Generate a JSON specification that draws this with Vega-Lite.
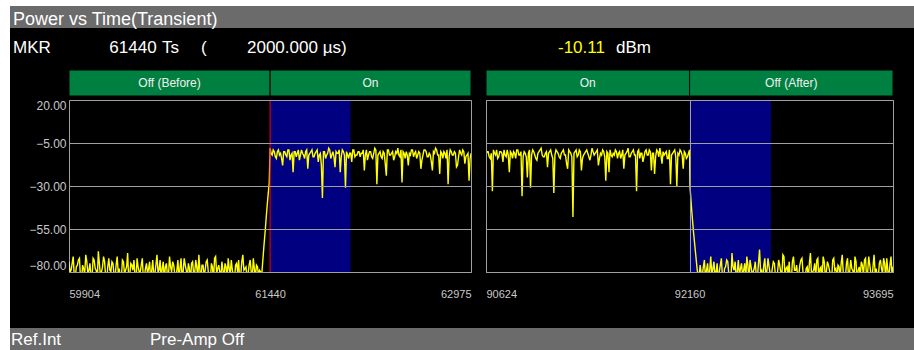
{
  "$schema": "https://vega.github.io/schema/vega-lite/v6.json",
  "background": "#000000",
  "padding": 0,
  "autosize": {"type": "pad"},
  "spacing": 0,
  "config": {
    "font": "Liberation Sans",
    "view": {"stroke": null},
    "concat": {"spacing": 0}
  },
  "datasets": {
    "segL": [
      {"seg": "Off (Before)", "t": 59904, "t2": 61440, "mid": 60672},
      {"seg": "On", "t": 61440, "t2": 62975, "mid": 62207.5}
    ],
    "segR": [
      {"seg": "On", "t": 90624, "t2": 92160, "mid": 91392},
      {"seg": "Off (After)", "t": 92160, "t2": 93695, "mid": 92927.5}
    ],
    "regionL": [{"t": 61440, "t2": 62054}],
    "regionR": [{"t": 92160, "t2": 92774}],
    "markerL": [{"t": 61440}],
    "traceL": [
      {"t":59904,"v":-74},{"t":59912,"v":-80},{"t":59920,"v":-79},{"t":59928,"v":-75},{"t":59936,"v":-71},{"t":59944,"v":-82},{"t":59952,"v":-83},{"t":59960,"v":-77},{"t":59968,"v":-76},{"t":59976,"v":-73},
      {"t":59984,"v":-72},{"t":59992,"v":-84},{"t":60000,"v":-85},{"t":60008,"v":-76},{"t":60016,"v":-78},{"t":60024,"v":-81},{"t":60032,"v":-70},{"t":60040,"v":-74},{"t":60048,"v":-81},{"t":60056,"v":-79},
      {"t":60064,"v":-75},{"t":60072,"v":-83},{"t":60080,"v":-84},{"t":60088,"v":-72},{"t":60096,"v":-73},{"t":60104,"v":-78},{"t":60112,"v":-79},{"t":60120,"v":-85},{"t":60128,"v":-68},{"t":60136,"v":-75},
      {"t":60144,"v":-82},{"t":60152,"v":-80},{"t":60160,"v":-77},{"t":60168,"v":-71},{"t":60176,"v":-74},{"t":60184,"v":-83},{"t":60192,"v":-86},{"t":60200,"v":-77},{"t":60208,"v":-72},{"t":60216,"v":-79},
      {"t":60224,"v":-80},{"t":60232,"v":-74},{"t":60240,"v":-75},{"t":60248,"v":-82},{"t":60256,"v":-83},{"t":60264,"v":-76},{"t":60272,"v":-71},{"t":60280,"v":-80},{"t":60288,"v":-78},{"t":60296,"v":-85},
      {"t":60304,"v":-84},{"t":60312,"v":-73},{"t":60320,"v":-74},{"t":60328,"v":-81},{"t":60336,"v":-79},{"t":60344,"v":-77},{"t":60352,"v":-69},{"t":60360,"v":-84},{"t":60368,"v":-82},{"t":60376,"v":-75},
      {"t":60384,"v":-76},{"t":60392,"v":-79},{"t":60400,"v":-73},{"t":60408,"v":-82},{"t":60416,"v":-85},{"t":60424,"v":-72},{"t":60432,"v":-77},{"t":60440,"v":-80},{"t":60448,"v":-80},{"t":60456,"v":-76},
      {"t":60464,"v":-72},{"t":60472,"v":-84},{"t":60480,"v":-83},{"t":60488,"v":-78},{"t":60496,"v":-75},{"t":60504,"v":-81},{"t":60512,"v":-78},{"t":60520,"v":-74},{"t":60528,"v":-86},{"t":60536,"v":-79},
      {"t":60544,"v":-73},{"t":60552,"v":-83},{"t":60560,"v":-81},{"t":60568,"v":-76},{"t":60576,"v":-70},{"t":60584,"v":-80},{"t":60592,"v":-79},{"t":60600,"v":-73},{"t":60608,"v":-84},{"t":60616,"v":-78},
      {"t":60624,"v":-74},{"t":60632,"v":-85},{"t":60640,"v":-77},{"t":60648,"v":-75},{"t":60656,"v":-82},{"t":60664,"v":-82},{"t":60672,"v":-71},{"t":60680,"v":-77},{"t":60688,"v":-80},{"t":60696,"v":-74},
      {"t":60704,"v":-76},{"t":60712,"v":-81},{"t":60720,"v":-85},{"t":60728,"v":-79},{"t":60736,"v":-73},{"t":60744,"v":-84},{"t":60752,"v":-78},{"t":60760,"v":-72},{"t":60768,"v":-83},{"t":60776,"v":-80},
      {"t":60784,"v":-72},{"t":60792,"v":-76},{"t":60800,"v":-79},{"t":60808,"v":-83},{"t":60816,"v":-75},{"t":60824,"v":-78},{"t":60832,"v":-86},{"t":60840,"v":-75},{"t":60848,"v":-74},{"t":60856,"v":-81},
      {"t":60864,"v":-81},{"t":60872,"v":-73},{"t":60880,"v":-77},{"t":60888,"v":-84},{"t":60896,"v":-70},{"t":60904,"v":-79},{"t":60912,"v":-84},{"t":60920,"v":-76},{"t":60928,"v":-76},{"t":60936,"v":-82},
      {"t":60944,"v":-79},{"t":60952,"v":-74},{"t":60960,"v":-73},{"t":60968,"v":-80},{"t":60976,"v":-82},{"t":60984,"v":-85},{"t":60992,"v":-75},{"t":61000,"v":-77},{"t":61008,"v":-85},{"t":61016,"v":-72},
      {"t":61024,"v":-71},{"t":61032,"v":-81},{"t":61040,"v":-78},{"t":61048,"v":-76},{"t":61056,"v":-80},{"t":61064,"v":-83},{"t":61072,"v":-74},{"t":61080,"v":-79},{"t":61088,"v":-83},{"t":61096,"v":-75},
      {"t":61104,"v":-77},{"t":61112,"v":-84},{"t":61120,"v":-72},{"t":61128,"v":-78},{"t":61136,"v":-81},{"t":61144,"v":-73},{"t":61152,"v":-79},{"t":61160,"v":-82},{"t":61168,"v":-86},{"t":61176,"v":-76},
      {"t":61184,"v":-75},{"t":61192,"v":-80},{"t":61200,"v":-73},{"t":61208,"v":-85},{"t":61216,"v":-82},{"t":61224,"v":-74},{"t":61232,"v":-70},{"t":61240,"v":-79},{"t":61248,"v":-78},{"t":61256,"v":-77},
      {"t":61264,"v":-84},{"t":61272,"v":-81},{"t":61280,"v":-76},{"t":61288,"v":-73},{"t":61296,"v":-80},{"t":61304,"v":-84},{"t":61312,"v":-72},{"t":61320,"v":-78},{"t":61328,"v":-83},{"t":61336,"v":-76},
      {"t":61344,"v":-77},{"t":61352,"v":-82},{"t":61360,"v":-79},{"t":61368,"v":-80},{"t":61376,"v":-82},
      {"t":61392,"v":-66},{"t":61404,"v":-55},{"t":61414,"v":-45},{"t":61424,"v":-36},{"t":61434,"v":-28},
      {"t":61440,"v":-8},{"t":61448,"v":-11},{"t":61456,"v":-12},{"t":61464,"v":-9},{"t":61472,"v":-10},{"t":61480,"v":-13},{"t":61488,"v":-14},{"t":61496,"v":-10},{"t":61504,"v":-9},{"t":61512,"v":-12},
      {"t":61520,"v":-11},{"t":61528,"v":-14},{"t":61536,"v":-18},{"t":61544,"v":-10},{"t":61552,"v":-10},{"t":61560,"v":-12},{"t":61568,"v":-13},{"t":61576,"v":-9},{"t":61584,"v":-9},{"t":61592,"v":-15},
      {"t":61600,"v":-12},{"t":61608,"v":-11},{"t":61616,"v":-22},{"t":61624,"v":-10},{"t":61632,"v":-10},{"t":61640,"v":-13},{"t":61648,"v":-11},{"t":61656,"v":-9},{"t":61664,"v":-15},{"t":61672,"v":-12},
      {"t":61680,"v":-9},{"t":61688,"v":-11},{"t":61696,"v":-12},{"t":61704,"v":-14},{"t":61712,"v":-10},{"t":61720,"v":-9},{"t":61728,"v":-20},{"t":61736,"v":-12},{"t":61744,"v":-11},{"t":61752,"v":-10},
      {"t":61760,"v":-9},{"t":61768,"v":-13},{"t":61776,"v":-13},{"t":61784,"v":-11},{"t":61792,"v":-10},{"t":61800,"v":-9},{"t":61808,"v":-16},{"t":61816,"v":-12},{"t":61824,"v":-11},{"t":61832,"v":-18},
      {"t":61840,"v":-37},{"t":61848,"v":-10},{"t":61856,"v":-10},{"t":61864,"v":-14},{"t":61872,"v":-12},{"t":61880,"v":-11},{"t":61888,"v":-8},{"t":61896,"v":-9},{"t":61904,"v":-14},{"t":61912,"v":-12},
      {"t":61920,"v":-10},{"t":61928,"v":-13},{"t":61936,"v":-19},{"t":61944,"v":-10},{"t":61952,"v":-11},{"t":61960,"v":-11},{"t":61968,"v":-9},{"t":61976,"v":-22},{"t":61984,"v":-13},{"t":61992,"v":-9},
      {"t":62000,"v":-10},{"t":62008,"v":-12},{"t":62016,"v":-31},{"t":62024,"v":-10},{"t":62032,"v":-12},{"t":62040,"v":-14},{"t":62048,"v":-11},{"t":62056,"v":-11},{"t":62064,"v":-16},{"t":62072,"v":-9},
      {"t":62080,"v":-9},{"t":62088,"v":-13},{"t":62096,"v":-12},{"t":62104,"v":-12},{"t":62112,"v":-10},{"t":62120,"v":-10},{"t":62128,"v":-13},{"t":62136,"v":-11},{"t":62144,"v":-11},{"t":62152,"v":-9},
      {"t":62160,"v":-21},{"t":62168,"v":-12},{"t":62176,"v":-9},{"t":62184,"v":-15},{"t":62192,"v":-12},{"t":62200,"v":-10},{"t":62208,"v":-10},{"t":62216,"v":-13},{"t":62224,"v":-14},{"t":62232,"v":-11},
      {"t":62240,"v":-8},{"t":62248,"v":-9},{"t":62256,"v":-29},{"t":62264,"v":-12},{"t":62272,"v":-11},{"t":62280,"v":-10},{"t":62288,"v":-13},{"t":62296,"v":-14},{"t":62304,"v":-10},{"t":62312,"v":-11},
      {"t":62320,"v":-17},{"t":62328,"v":-24},{"t":62336,"v":-9},{"t":62344,"v":-9},{"t":62352,"v":-12},{"t":62360,"v":-12},{"t":62368,"v":-11},{"t":62376,"v":-10},{"t":62384,"v":-15},{"t":62392,"v":-13},
      {"t":62400,"v":-10},{"t":62408,"v":-11},{"t":62416,"v":-8},{"t":62424,"v":-12},{"t":62432,"v":-13},{"t":62440,"v":-9},{"t":62448,"v":-28},{"t":62456,"v":-10},{"t":62464,"v":-11},{"t":62472,"v":-14},
      {"t":62480,"v":-10},{"t":62488,"v":-12},{"t":62496,"v":-18},{"t":62504,"v":-11},{"t":62512,"v":-12},{"t":62520,"v":-9},{"t":62528,"v":-9},{"t":62536,"v":-13},{"t":62544,"v":-11},{"t":62552,"v":-10},
      {"t":62560,"v":-14},{"t":62568,"v":-12},{"t":62576,"v":-10},{"t":62584,"v":-11},{"t":62592,"v":-20},{"t":62600,"v":-15},{"t":62608,"v":-12},{"t":62616,"v":-9},{"t":62624,"v":-9},{"t":62632,"v":-10},
      {"t":62640,"v":-13},{"t":62648,"v":-13},{"t":62656,"v":-11},{"t":62664,"v":-12},{"t":62672,"v":-16},{"t":62680,"v":-21},{"t":62688,"v":-10},{"t":62696,"v":-11},{"t":62704,"v":-8},{"t":62712,"v":-9},
      {"t":62720,"v":-12},{"t":62728,"v":-12},{"t":62736,"v":-23},{"t":62744,"v":-10},{"t":62752,"v":-11},{"t":62760,"v":-14},{"t":62768,"v":-10},{"t":62776,"v":-11},{"t":62784,"v":-14},{"t":62792,"v":-9},
      {"t":62800,"v":-29},{"t":62808,"v":-13},{"t":62816,"v":-9},{"t":62824,"v":-10},{"t":62832,"v":-12},{"t":62840,"v":-12},{"t":62848,"v":-10},{"t":62856,"v":-11},{"t":62864,"v":-19},{"t":62872,"v":-18},
      {"t":62880,"v":-13},{"t":62888,"v":-9},{"t":62896,"v":-11},{"t":62904,"v":-12},{"t":62912,"v":-9},{"t":62920,"v":-10},{"t":62928,"v":-17},{"t":62936,"v":-13},{"t":62944,"v":-12},{"t":62952,"v":-11},
      {"t":62960,"v":-27},{"t":62968,"v":-14},{"t":62975,"v":-11}
    ],
    "traceR": [
      {"t":90624,"v":-12},{"t":90632,"v":-10},{"t":90640,"v":-10},{"t":90648,"v":-13},{"t":90656,"v":-14},{"t":90664,"v":-11},{"t":90672,"v":-33},{"t":90680,"v":-9},{"t":90688,"v":-11},{"t":90696,"v":-12},
      {"t":90704,"v":-9},{"t":90712,"v":-14},{"t":90720,"v":-13},{"t":90728,"v":-10},{"t":90736,"v":-10},{"t":90744,"v":-11},{"t":90752,"v":-16},{"t":90760,"v":-9},{"t":90768,"v":-12},{"t":90776,"v":-13},
      {"t":90784,"v":-9},{"t":90792,"v":-12},{"t":90800,"v":-22},{"t":90808,"v":-10},{"t":90816,"v":-11},{"t":90824,"v":-14},{"t":90832,"v":-10},{"t":90840,"v":-11},{"t":90848,"v":-14},{"t":90856,"v":-9},
      {"t":90864,"v":-9},{"t":90872,"v":-12},{"t":90880,"v":-12},{"t":90888,"v":-10},{"t":90896,"v":-36},{"t":90904,"v":-13},{"t":90912,"v":-10},{"t":90920,"v":-11},{"t":90928,"v":-13},{"t":90936,"v":-25},
      {"t":90944,"v":-11},{"t":90952,"v":-9},{"t":90960,"v":-31},{"t":90968,"v":-12},{"t":90976,"v":-9},{"t":90984,"v":-10},{"t":90992,"v":-12},{"t":91000,"v":-14},{"t":91008,"v":-15},{"t":91016,"v":-11},
      {"t":91024,"v":-10},{"t":91032,"v":-9},{"t":91040,"v":-8},{"t":91048,"v":-12},{"t":91056,"v":-13},{"t":91064,"v":-13},{"t":91072,"v":-11},{"t":91080,"v":-10},{"t":91088,"v":-19},{"t":91096,"v":-11},
      {"t":91104,"v":-10},{"t":91112,"v":-9},{"t":91120,"v":-12},{"t":91128,"v":-14},{"t":91136,"v":-34},{"t":91144,"v":-12},{"t":91152,"v":-9},{"t":91160,"v":-10},{"t":91168,"v":-11},{"t":91176,"v":-13},
      {"t":91184,"v":-14},{"t":91192,"v":-11},{"t":91200,"v":-10},{"t":91208,"v":-9},{"t":91216,"v":-12},{"t":91224,"v":-12},{"t":91232,"v":-17},{"t":91240,"v":-20},{"t":91248,"v":-9},{"t":91256,"v":-10},
      {"t":91264,"v":-11},{"t":91272,"v":-13},{"t":91280,"v":-48},{"t":91288,"v":-11},{"t":91296,"v":-10},{"t":91304,"v":-9},{"t":91312,"v":-13},{"t":91320,"v":-12},{"t":91328,"v":-9},{"t":91336,"v":-10},
      {"t":91344,"v":-21},{"t":91352,"v":-14},{"t":91360,"v":-12},{"t":91368,"v":-11},{"t":91376,"v":-10},{"t":91384,"v":-9},{"t":91392,"v":-11},{"t":91400,"v":-13},{"t":91408,"v":-15},{"t":91416,"v":-12},
      {"t":91424,"v":-8},{"t":91432,"v":-10},{"t":91440,"v":-12},{"t":91448,"v":-11},{"t":91456,"v":-10},{"t":91464,"v":-9},{"t":91472,"v":-18},{"t":91480,"v":-14},{"t":91488,"v":-11},{"t":91496,"v":-12},
      {"t":91504,"v":-9},{"t":91512,"v":-10},{"t":91520,"v":-13},{"t":91528,"v":-27},{"t":91536,"v":-10},{"t":91544,"v":-11},{"t":91552,"v":-22},{"t":91560,"v":-9},{"t":91568,"v":-12},{"t":91576,"v":-13},
      {"t":91584,"v":-11},{"t":91592,"v":-12},{"t":91600,"v":-9},{"t":91608,"v":-10},{"t":91616,"v":-14},{"t":91624,"v":-11},{"t":91632,"v":-10},{"t":91640,"v":-14},{"t":91648,"v":-12},{"t":91656,"v":-9},
      {"t":91664,"v":-20},{"t":91672,"v":-12},{"t":91680,"v":-11},{"t":91688,"v":-10},{"t":91696,"v":-8},{"t":91704,"v":-13},{"t":91712,"v":-13},{"t":91720,"v":-11},{"t":91728,"v":-10},{"t":91736,"v":-9},
      {"t":91744,"v":-12},{"t":91752,"v":-12},{"t":91760,"v":-33},{"t":91768,"v":-10},{"t":91776,"v":-9},{"t":91784,"v":-14},{"t":91792,"v":-11},{"t":91800,"v":-11},{"t":91808,"v":-16},{"t":91816,"v":-13},
      {"t":91824,"v":-10},{"t":91832,"v":-9},{"t":91840,"v":-12},{"t":91848,"v":-12},{"t":91856,"v":-9},{"t":91864,"v":-10},{"t":91872,"v":-21},{"t":91880,"v":-11},{"t":91888,"v":-11},{"t":91896,"v":-23},
      {"t":91904,"v":-13},{"t":91912,"v":-9},{"t":91920,"v":-10},{"t":91928,"v":-13},{"t":91936,"v":-8},{"t":91944,"v":-12},{"t":91952,"v":-17},{"t":91960,"v":-10},{"t":91968,"v":-12},{"t":91976,"v":-11},
      {"t":91984,"v":-10},{"t":91992,"v":-14},{"t":92000,"v":-14},{"t":92008,"v":-9},{"t":92016,"v":-29},{"t":92024,"v":-12},{"t":92032,"v":-11},{"t":92040,"v":-10},{"t":92048,"v":-9},{"t":92056,"v":-13},
      {"t":92064,"v":-30},{"t":92072,"v":-11},{"t":92080,"v":-12},{"t":92088,"v":-9},{"t":92096,"v":-10},{"t":92104,"v":-12},{"t":92112,"v":-20},{"t":92120,"v":-10},{"t":92128,"v":-11},{"t":92136,"v":-14},
      {"t":92144,"v":-13},{"t":92152,"v":-11},{"t":92160,"v":-9},
      {"t":92163,"v":-30},{"t":92176,"v":-44},{"t":92190,"v":-57},{"t":92204,"v":-68},{"t":92218,"v":-79},{"t":92230,"v":-84},
      {"t":92240,"v":-76},{"t":92248,"v":-81},{"t":92256,"v":-82},{"t":92264,"v":-77},{"t":92272,"v":-73},{"t":92280,"v":-84},{"t":92288,"v":-79},{"t":92296,"v":-75},{"t":92304,"v":-85},{"t":92312,"v":-79},
      {"t":92320,"v":-71},{"t":92328,"v":-82},{"t":92336,"v":-78},{"t":92344,"v":-74},{"t":92352,"v":-83},{"t":92360,"v":-80},{"t":92368,"v":-75},{"t":92376,"v":-86},{"t":92384,"v":-80},{"t":92392,"v":-76},
      {"t":92400,"v":-72},{"t":92408,"v":-83},{"t":92416,"v":-86},{"t":92424,"v":-78},{"t":92432,"v":-77},{"t":92440,"v":-73},{"t":92448,"v":-74},{"t":92456,"v":-81},{"t":92464,"v":-81},{"t":92472,"v":-85},
      {"t":92480,"v":-69},{"t":92488,"v":-77},{"t":92496,"v":-79},{"t":92504,"v":-74},{"t":92512,"v":-84},{"t":92520,"v":-80},{"t":92528,"v":-73},{"t":92536,"v":-82},{"t":92544,"v":-78},{"t":92552,"v":-75},
      {"t":92560,"v":-82},{"t":92568,"v":-79},{"t":92576,"v":-75},{"t":92584,"v":-84},{"t":92592,"v":-71},{"t":92600,"v":-76},{"t":92608,"v":-85},{"t":92616,"v":-73},{"t":92624,"v":-77},{"t":92632,"v":-81},
      {"t":92640,"v":-80},{"t":92648,"v":-78},{"t":92656,"v":-74},{"t":92664,"v":-83},{"t":92672,"v":-83},{"t":92680,"v":-75},{"t":92688,"v":-67},{"t":92696,"v":-80},{"t":92704,"v":-79},{"t":92712,"v":-85},
      {"t":92720,"v":-76},{"t":92728,"v":-72},{"t":92736,"v":-84},{"t":92744,"v":-79},{"t":92752,"v":-72},{"t":92760,"v":-77},{"t":92768,"v":-81},{"t":92776,"v":-84},{"t":92784,"v":-78},{"t":92792,"v":-74},
      {"t":92800,"v":-75},{"t":92808,"v":-82},{"t":92816,"v":-86},{"t":92824,"v":-80},{"t":92832,"v":-73},{"t":92840,"v":-76},{"t":92848,"v":-80},{"t":92856,"v":-83},{"t":92864,"v":-70},{"t":92872,"v":-71},
      {"t":92880,"v":-82},{"t":92888,"v":-78},{"t":92896,"v":-77},{"t":92904,"v":-81},{"t":92912,"v":-74},{"t":92920,"v":-85},{"t":92928,"v":-85},{"t":92936,"v":-74},{"t":92944,"v":-71},{"t":92952,"v":-79},
      {"t":92960,"v":-79},{"t":92968,"v":-76},{"t":92976,"v":-83},{"t":92984,"v":-82},{"t":92992,"v":-76},{"t":93000,"v":-73},{"t":93008,"v":-72},{"t":93016,"v":-80},{"t":93024,"v":-81},{"t":93032,"v":-84},
      {"t":93040,"v":-78},{"t":93048,"v":-77},{"t":93056,"v":-84},{"t":93064,"v":-75},{"t":93072,"v":-69},{"t":93080,"v":-81},{"t":93088,"v":-80},{"t":93096,"v":-79},{"t":93104,"v":-75},{"t":93112,"v":-83},
      {"t":93120,"v":-73},{"t":93128,"v":-72},{"t":93136,"v":-86},{"t":93144,"v":-78},{"t":93152,"v":-77},{"t":93160,"v":-85},{"t":93168,"v":-71},{"t":93176,"v":-74},{"t":93184,"v":-82},{"t":93192,"v":-80},
      {"t":93200,"v":-74},{"t":93208,"v":-76},{"t":93216,"v":-79},{"t":93224,"v":-82},{"t":93232,"v":-85},{"t":93240,"v":-73},{"t":93248,"v":-72},{"t":93256,"v":-79},{"t":93264,"v":-78},{"t":93272,"v":-84},
      {"t":93280,"v":-76},{"t":93288,"v":-77},{"t":93296,"v":-83},{"t":93304,"v":-75},{"t":93312,"v":-70},{"t":93320,"v":-81},{"t":93328,"v":-81},{"t":93336,"v":-83},{"t":93344,"v":-75},{"t":93352,"v":-72},
      {"t":93360,"v":-84},{"t":93368,"v":-80},{"t":93376,"v":-73},{"t":93384,"v":-78},{"t":93392,"v":-79},{"t":93400,"v":-85},{"t":93408,"v":-71},{"t":93416,"v":-74},{"t":93424,"v":-86},{"t":93432,"v":-79},
      {"t":93440,"v":-77},{"t":93448,"v":-82},{"t":93456,"v":-74},{"t":93464,"v":-76},{"t":93472,"v":-82},{"t":93480,"v":-73},{"t":93488,"v":-72},{"t":93496,"v":-84},{"t":93504,"v":-80},{"t":93512,"v":-71},
      {"t":93520,"v":-76},{"t":93528,"v":-81},{"t":93536,"v":-85},{"t":93544,"v":-77},{"t":93552,"v":-70},{"t":93560,"v":-80},{"t":93568,"v":-78},{"t":93576,"v":-83},{"t":93584,"v":-83},{"t":93592,"v":-75},
      {"t":93600,"v":-73},{"t":93608,"v":-78},{"t":93616,"v":-81},{"t":93624,"v":-72},{"t":93632,"v":-75},{"t":93640,"v":-84},{"t":93648,"v":-72},{"t":93656,"v":-79},{"t":93664,"v":-84},{"t":93672,"v":-76},
      {"t":93680,"v":-71},{"t":93688,"v":-82},{"t":93695,"v":-77}
    ]
  },
  "vconcat": [
    {"width": 914, "height": 6, "view": {"fill": "#ffffff", "stroke": null}, "data": {"values": []}, "mark": "rect"},
    {
      "spacing": 0,
      "hconcat": [
        {"width": 10, "height": 344, "view": {"fill": "#ffffff", "stroke": null}, "data": {"values": []}, "mark": "rect"},
        {
          "spacing": 0,
          "vconcat": [
            {
              "width": 904, "height": 22,
              "view": {"fill": "#6b6b6b", "stroke": null},
              "data": {"values": [{"label": "Power vs Time(Transient)"}]},
              "mark": {"type": "text", "align": "left", "baseline": "alphabetic", "fontSize": 18, "color": "#ffffff"},
              "encoding": {"text": {"field": "label"}, "x": {"value": 3}, "y": {"value": 18.5}}
            },
            {
              "width": 904, "height": 40,
              "layer": [
                {"data": {"values": [{"label": "MKR"}]}, "mark": {"type": "text", "align": "left", "baseline": "alphabetic", "fontSize": 17, "color": "#ffffff"}, "encoding": {"text": {"field": "label"}, "x": {"value": 3}, "y": {"value": 24}}},
                {"data": {"values": [{"label": "61440"}]}, "mark": {"type": "text", "align": "center", "baseline": "alphabetic", "fontSize": 17, "color": "#ffffff"}, "encoding": {"text": {"field": "label"}, "x": {"value": 123}, "y": {"value": 24}}},
                {"data": {"values": [{"label": "Ts"}]}, "mark": {"type": "text", "align": "left", "baseline": "alphabetic", "fontSize": 17, "color": "#ffffff"}, "encoding": {"text": {"field": "label"}, "x": {"value": 152}, "y": {"value": 24}}},
                {"data": {"values": [{"label": "("}]}, "mark": {"type": "text", "align": "left", "baseline": "alphabetic", "fontSize": 17, "color": "#ffffff"}, "encoding": {"text": {"field": "label"}, "x": {"value": 191}, "y": {"value": 24}}},
                {"data": {"values": [{"label": "2000.000 µs)"}]}, "mark": {"type": "text", "align": "left", "baseline": "alphabetic", "fontSize": 17, "color": "#ffffff"}, "encoding": {"text": {"field": "label"}, "x": {"value": 237}, "y": {"value": 24}}},
                {"data": {"values": [{"label": "-10.11"}]}, "mark": {"type": "text", "align": "left", "baseline": "alphabetic", "fontSize": 17, "color": "#ffff00"}, "encoding": {"text": {"field": "label"}, "x": {"value": 548}, "y": {"value": 24}}},
                {"data": {"values": [{"label": "dBm"}]}, "mark": {"type": "text", "align": "left", "baseline": "alphabetic", "fontSize": 17, "color": "#ffffff"}, "encoding": {"text": {"field": "label"}, "x": {"value": 606}, "y": {"value": 24}}}
              ]
            },
            {
              "columns": 3,
              "align": "each",
              "bounds": "flush",
              "spacing": {"row": 4, "column": 15},
              "concat": [
                {"width": 44, "height": 26, "data": {"values": []}, "mark": "rect"},
                {
                  "width": 402, "height": 26,
                  "data": {"name": "segL"},
                  "layer": [
                    {"mark": {"type": "rect", "fill": "#008040", "stroke": "#000000", "strokeWidth": 1},
                     "encoding": {"x": {"field": "t", "type": "quantitative", "scale": {"domain": [59904, 62975], "nice": false, "zero": false}, "axis": null}, "x2": {"field": "t2"}}},
                    {"mark": {"type": "text", "color": "#f0f0f0", "fontSize": 12},
                     "encoding": {"x": {"field": "mid", "type": "quantitative", "axis": null}, "text": {"field": "seg"}}}
                  ]
                },
                {
                  "width": 407, "height": 26,
                  "data": {"name": "segR"},
                  "layer": [
                    {"mark": {"type": "rect", "fill": "#008040", "stroke": "#000000", "strokeWidth": 1},
                     "encoding": {"x": {"field": "t", "type": "quantitative", "scale": {"domain": [90624, 93695], "nice": false, "zero": false}, "axis": null}, "x2": {"field": "t2"}}},
                    {"mark": {"type": "text", "color": "#f0f0f0", "fontSize": 12},
                     "encoding": {"x": {"field": "mid", "type": "quantitative", "axis": null}, "text": {"field": "seg"}}}
                  ]
                },
                {"width": 44, "height": 172, "data": {"values": []}, "mark": "rect"},
                {
                  "width": 402, "height": 172,
                  "view": {"stroke": "#a0a0a0", "strokeWidth": 1},
                  "layer": [
                    {"data": {"name": "regionL"}, "mark": {"type": "rect", "fill": "#000080"},
                     "encoding": {"x": {"field": "t", "type": "quantitative", "scale": {"domain": [59904, 62975], "nice": false, "zero": false},
                       "axis": {"values": [59904, 61440, 62975], "format": "d", "labelFlush": true, "grid": false, "domain": false, "ticks": false, "labelColor": "#c8c8c8", "labelFontSize": 11, "labelPadding": 16, "title": null}},
                       "x2": {"field": "t2"}}},
                    {"data": {"name": "traceL"}, "mark": {"type": "line", "color": "#ffff00", "strokeWidth": 1.4, "clip": true},
                     "encoding": {"x": {"field": "t", "type": "quantitative", "axis": {"title": null}},
                       "y": {"field": "v", "type": "quantitative", "scale": {"domain": [-80, 20], "nice": false, "zero": false},
                         "axis": {"values": [20, -5, -30, -55, -80], "format": ".2f", "labelFlush": true, "grid": true, "gridColor": "#a0a0a0", "gridWidth": 1, "domain": false, "ticks": false, "labelPadding": 3, "labelColor": "#c8c8c8", "labelFontSize": 12, "title": null, "zindex": 1}}}},
                    {"data": {"name": "markerL"}, "mark": {"type": "rule", "color": "#ff0000", "strokeWidth": 1},
                     "encoding": {"x": {"field": "t", "type": "quantitative", "axis": {"title": null}}}}
                  ]
                },
                {
                  "width": 407, "height": 172,
                  "view": {"stroke": "#a0a0a0", "strokeWidth": 1},
                  "layer": [
                    {"data": {"name": "regionR"}, "mark": {"type": "rect", "fill": "#000080"},
                     "encoding": {"x": {"field": "t", "type": "quantitative", "scale": {"domain": [90624, 93695], "nice": false, "zero": false},
                       "axis": {"values": [90624, 92160, 93695], "format": "d", "labelFlush": true, "grid": true, "gridColor": "#a0a0a0", "gridWidth": 1, "zindex": 1, "domain": false, "ticks": false, "labelColor": "#c8c8c8", "labelFontSize": 11, "labelPadding": 16, "title": null}},
                       "x2": {"field": "t2"}}},
                    {"data": {"name": "traceR"}, "mark": {"type": "line", "color": "#ffff00", "strokeWidth": 1.4, "clip": true},
                     "encoding": {"x": {"field": "t", "type": "quantitative", "axis": {"title": null}},
                       "y": {"field": "v", "type": "quantitative", "scale": {"domain": [-80, 20], "nice": false, "zero": false},
                         "axis": {"values": [20, -5, -30, -55, -80], "labels": false, "grid": true, "gridColor": "#a0a0a0", "gridWidth": 1, "domain": false, "ticks": false, "title": null, "zindex": 1}}}}
                  ]
                },
                {"width": 44, "height": 52, "data": {"values": []}, "mark": "rect"}
              ]
            },
            {
              "width": 904, "height": 22,
              "view": {"fill": "#6b6b6b", "stroke": null},
              "layer": [
                {"data": {"values": [{"label": "Ref.Int"}]}, "mark": {"type": "text", "align": "left", "baseline": "alphabetic", "fontSize": 17, "color": "#ffffff"}, "encoding": {"text": {"field": "label"}, "x": {"value": 1}, "y": {"value": 17}}},
                {"data": {"values": [{"label": "Pre-Amp Off"}]}, "mark": {"type": "text", "align": "left", "baseline": "alphabetic", "fontSize": 17, "color": "#ffffff"}, "encoding": {"text": {"field": "label"}, "x": {"value": 140}, "y": {"value": 17}}}
              ]
            }
          ]
        }
      ]
    }
  ]
}
